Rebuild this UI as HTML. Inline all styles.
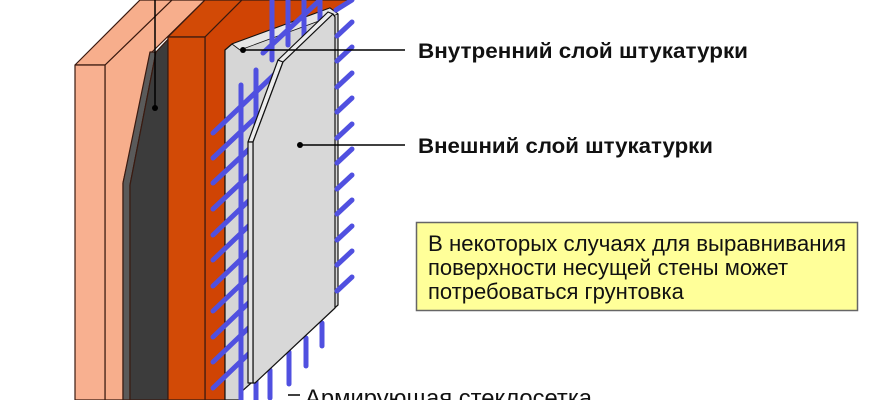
<!DOCTYPE html>
<html><head><meta charset="utf-8"><style>
html,body{margin:0;padding:0;background:#fff;}
svg{display:block;}
text{font-family:"Liberation Sans",sans-serif;}
</style></head><body>
<svg width="870" height="400" viewBox="0 0 870 400" xmlns="http://www.w3.org/2000/svg">
<g stroke="#3a1a10" stroke-width="1.2" stroke-linejoin="round">
<polygon points="105,65 172,0 205,0 152,52 123,183 123,400 105,400" fill="#f7ae8c"/>
<polygon points="75,65 140,0 172,0 105,65" fill="#f7ae8c"/>
<rect x="75" y="65" width="30" height="335" fill="#f8b090"/>
<polygon points="123,183 150,52 156,52 130,185 130,400 123,400" fill="#5a5a5a"/>
<polygon points="130,185 156,52 205,0 240,0 168,37 168,400 130,400" fill="#3c3c3c"/>
<polygon points="168,37 205,0 242,0 205,37" fill="#d24a06"/>
<polygon points="205,37 242,0 350,0 335,12 225,50 225,400 205,400" fill="#d04404"/>
<rect x="168" y="37" width="37" height="363" fill="#d24a06"/>
<polygon points="225,50 232,44 330,8 338,14 338,305 240,393 240,400 225,400" fill="#d6d6d6" stroke="#111"/>
<polygon points="232,44 330,8 338,14 240,50" fill="#e6e6e6" stroke="#111" stroke-width="0.8"/>
</g>
<g stroke="#5050e0" stroke-width="5" stroke-linecap="round">
<line x1="241" y1="85" x2="241" y2="400"/>
<line x1="256" y1="70" x2="256" y2="400"/>
<line x1="272" y1="0" x2="272" y2="60"/>
<line x1="288" y1="0" x2="288" y2="45"/>
<line x1="304" y1="0" x2="304" y2="40"/>
<line x1="320" y1="0" x2="320" y2="30"/>
<line x1="270" y1="370" x2="270" y2="398"/>
<line x1="289" y1="352" x2="289" y2="384"/>
<line x1="306" y1="338" x2="306" y2="366"/>
<line x1="322" y1="323" x2="322" y2="346"/>
<line x1="263" y1="53" x2="320" y2="0"/>
<line x1="213" y1="133" x2="300" y2="50"/>
<line x1="213" y1="158" x2="290" y2="85"/>
<line x1="213" y1="183" x2="280" y2="120"/>
<line x1="213" y1="209" x2="265" y2="160"/>
<line x1="213" y1="235" x2="260" y2="190"/>
<line x1="213" y1="260" x2="260" y2="215"/>
<line x1="213" y1="286" x2="260" y2="241"/>
<line x1="213" y1="311" x2="260" y2="266"/>
<line x1="213" y1="337" x2="260" y2="292"/>
<line x1="213" y1="362" x2="260" y2="317"/>
<line x1="213" y1="388" x2="260" y2="343"/>
</g>
<g stroke="#111" stroke-width="1.2" stroke-linejoin="round">
<polygon points="248,142 278,60 283,62 253,142" fill="#ececec"/>
<polygon points="278,60 328,12 333,14 283,62" fill="#ececec"/>
<polygon points="253,142 283,62 333,14 335,17 335,308 255,383 253,383" fill="#d8d8d8"/>
<polygon points="248,142 253,142 253,383 248,383" fill="#e4e4e4"/>
</g>
<g stroke="#5050e0" stroke-width="5" stroke-linecap="round">
<line x1="336" y1="10" x2="352" y2="0"/>
<line x1="337" y1="36" x2="352" y2="22"/>
<line x1="337" y1="61" x2="352" y2="47"/>
<line x1="337" y1="87" x2="352" y2="73"/>
<line x1="337" y1="112" x2="352" y2="98"/>
<line x1="337" y1="138" x2="352" y2="124"/>
<line x1="337" y1="163" x2="352" y2="149"/>
<line x1="337" y1="189" x2="352" y2="175"/>
<line x1="337" y1="214" x2="352" y2="200"/>
<line x1="337" y1="240" x2="352" y2="226"/>
<line x1="337" y1="265" x2="352" y2="251"/>
<line x1="337" y1="291" x2="352" y2="277"/>
</g>
<g stroke="#000" stroke-width="1.5">
<line x1="155" y1="0" x2="155" y2="108"/>
<line x1="243" y1="50" x2="405" y2="50"/>
<line x1="300" y1="145" x2="405" y2="145"/>
<line x1="288" y1="395" x2="300" y2="395"/>
</g>
<circle cx="155" cy="108" r="3" fill="#000"/>
<circle cx="243" cy="50" r="3" fill="#000"/>
<circle cx="300" cy="145" r="3" fill="#000"/>
<text x="418" y="58" font-size="21" font-weight="bold" fill="#111" textLength="330" lengthAdjust="spacingAndGlyphs">Внутренний слой штукатурки</text>
<text x="418" y="153" font-size="21" font-weight="bold" fill="#111" textLength="295" lengthAdjust="spacingAndGlyphs">Внешний слой штукатурки</text>
<rect x="416.5" y="222.5" width="441" height="88" fill="#ffff99" stroke="#666" stroke-width="1.5"/>
<text x="428" y="251" font-size="22" fill="#111" textLength="418" lengthAdjust="spacingAndGlyphs">В некоторых случаях для выравнивания</text>
<text x="428" y="275" font-size="22" fill="#111">поверхности несущей стены может</text>
<text x="428" y="299" font-size="22" fill="#111">потребоваться грунтовка</text>
<text x="305" y="406" font-size="24" fill="#111" textLength="287" lengthAdjust="spacingAndGlyphs">Армирующая стеклосетка</text>
</svg>
</body></html>
